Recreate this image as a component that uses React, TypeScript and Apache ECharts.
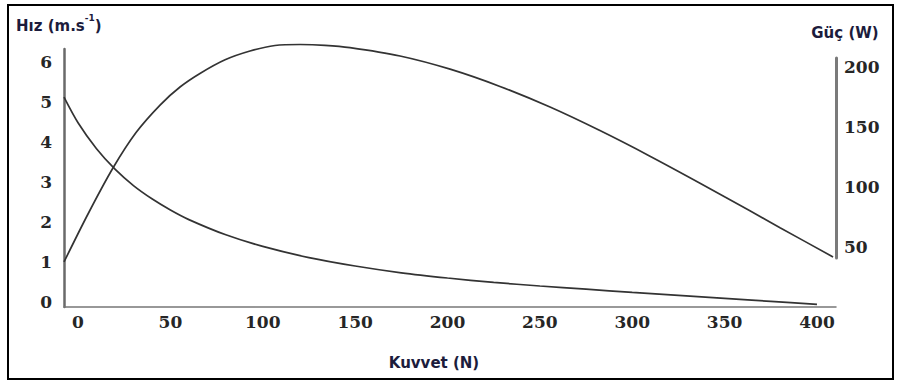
import React, { useEffect, useRef } from "react";
import * as echarts from "echarts";

// Force (N) and speed (m/s)
const speedForce = [-7.6, 0, 10, 20, 30, 40, 50, 60, 80, 100, 125, 150, 175, 200, 225, 250, 275, 300, 325, 350, 375, 400];
const speedValues = [5.12, 4.48, 3.83, 3.32, 2.91, 2.58, 2.3, 2.06, 1.68, 1.39, 1.11, 0.9, 0.73, 0.6, 0.49, 0.4, 0.32, 0.24, 0.165, 0.09, 0.015, -0.06];

// Force (N) and power (W)
const powerForce = [-7.6, 5.4, 18.9, 31.4, 44.4, 55.2, 66, 79.6, 93.1, 106.6, 120.2, 133.7, 147.2, 174.3, 201.4, 228.4, 255.5, 282.5, 309.6, 336.7, 363.7, 380, 408.7];
const powerValues = [37.5, 77.5, 115.8, 145.4, 168.3, 183.3, 194.6, 206, 213.3, 217.9, 218.75, 218.1, 216.2, 209.2, 198.2, 183.8, 166.6, 147, 125.7, 103.2, 80.2, 66.1, 41.7];

const xTicks = [0, 50, 100, 150, 200, 250, 300, 350, 400];
const speedTicks = [0, 1, 2, 3, 4, 5, 6];
const powerTicks = [50, 100, 150, 200];

const labelFont = {
  fontFamily: "DejaVu Serif",
  fontSize: 17,
  fontWeight: "bold" as const,
  color: "#262626",
};

export default function App() {
  const ref = useRef<HTMLDivElement>(null);
  useEffect(() => {
    if (!ref.current) return;
    const chart = echarts.init(ref.current, null, { renderer: "svg" });
    const xMin = -7.6;
    const xMax = 410.3;
    chart.setOption({
      animation: false,
      backgroundColor: "#ffffff",
      grid: [
        { left: 64, right: 65, top: 49, bottom: 74 },
        { left: 64, right: 65, top: 58, bottom: 123 },
      ],
      xAxis: [
        {
          type: "value",
          gridIndex: 0,
          min: xMin,
          max: xMax,
          axisLine: { show: true, onZero: false, lineStyle: { color: "#777", width: 1.5 } },
          axisTick: { show: false },
          splitLine: { show: false },
          axisLabel: { ...labelFont, margin: 6, customValues: xTicks },
        },
        {
          type: "value",
          gridIndex: 1,
          min: xMin,
          max: xMax,
          show: false,
          splitLine: { show: false },
        },
      ],
      yAxis: [
        {
          type: "value",
          gridIndex: 0,
          min: -0.125,
          max: 6.325,
          axisLine: { show: true, onZero: false, lineStyle: { color: "#6a6a6a", width: 2.5 } },
          axisTick: { show: false },
          splitLine: { show: false },
          axisLabel: { ...labelFont, margin: 12, customValues: speedTicks },
        },
        {
          type: "value",
          gridIndex: 1,
          position: "right",
          min: 40.83,
          max: 207.5,
          axisLine: { show: true, onZero: false, lineStyle: { color: "#7a7a7a", width: 3 } },
          axisTick: { show: false },
          splitLine: { show: false },
          axisLabel: { ...labelFont, margin: 8, customValues: powerTicks },
        },
      ],
      series: [
        {
          type: "line",
          name: "Hız",
          xAxisIndex: 0,
          yAxisIndex: 0,
          data: speedForce.map((f, i) => [f, speedValues[i]]),
          smooth: 0.3,
          symbol: "none",
          clip: false,
          lineStyle: { color: "#333", width: 1.7 },
        },
        {
          type: "line",
          name: "Güç",
          xAxisIndex: 1,
          yAxisIndex: 1,
          data: powerForce.map((f, i) => [f, powerValues[i]]),
          smooth: 0.3,
          symbol: "none",
          clip: false,
          lineStyle: { color: "#333", width: 1.7 },
        },
      ],
      graphic: [
        {
          type: "rect",
          shape: { x: 8, y: 5, width: 885, height: 374 },
          style: { fill: "none", stroke: "#000", lineWidth: 2 },
          silent: true,
        },
        {
          type: "text",
          x: 16,
          y: 23,
          style: {
            text: "{m|Hız (m.s}{s|-1}{m|)}",
            verticalAlign: "middle",
            rich: {
              m: { fontFamily: "DejaVu Sans", fontSize: 15, fontWeight: "bold", fill: "#1c1c3c", lineHeight: 20, verticalAlign: "bottom" },
              s: { fontFamily: "DejaVu Sans", fontSize: 9, fontWeight: "bold", fill: "#1c1c3c", lineHeight: 20, verticalAlign: "top" },
            },
          },
        },
        {
          type: "text",
          x: 845,
          y: 33,
          style: {
            text: "Güç (W)",
            align: "center",
            verticalAlign: "middle",
            fontFamily: "DejaVu Sans",
            fontSize: 15,
            fontWeight: "bold",
            fill: "#1c1c3c",
          },
        },
        {
          type: "text",
          x: 434,
          y: 363,
          style: {
            text: "Kuvvet (N)",
            align: "center",
            verticalAlign: "middle",
            fontFamily: "DejaVu Sans",
            fontSize: 15,
            fontWeight: "bold",
            fill: "#1c1c3c",
          },
        },
      ],
    });
    return () => chart.dispose();
  }, []);
  return (
    <div
      ref={ref}
      style={{ position: "absolute", left: 0, top: 0, width: 901, height: 381 }}
    />
  );
}
